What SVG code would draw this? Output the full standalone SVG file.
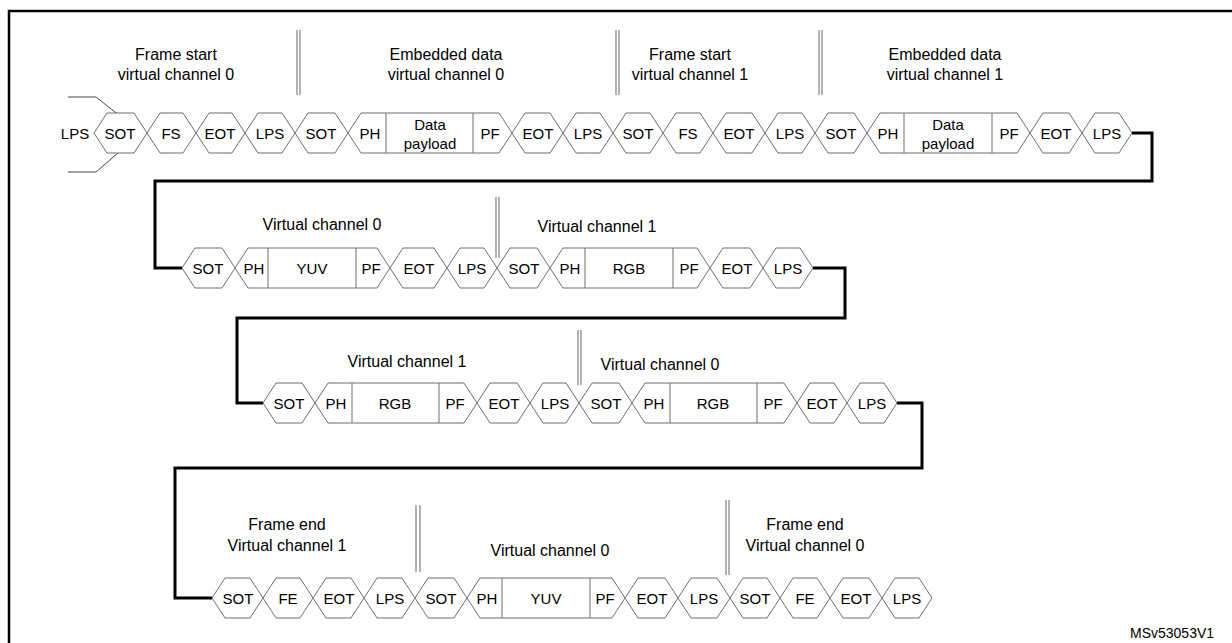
<svg xmlns="http://www.w3.org/2000/svg" width="1232" height="643" viewBox="0 0 1232 643">
<style>
.h{fill:#fff;stroke:#6e6e6e;stroke-width:1}
.d{stroke:#6e6e6e;stroke-width:1}
.t{font-family:"Liberation Sans",Arial,sans-serif;font-size:15px;fill:#000;text-anchor:middle;dominant-baseline:central}
.l{font-size:16px}
.c{fill:none;stroke:#000;stroke-width:3}
.s{stroke:#999;stroke-width:1.5}
</style>
<rect x="0" y="0" width="1232" height="643" fill="#fff"/>
<rect x="9" y="11" width="1240" height="640" fill="none" stroke="#000" stroke-width="2.5"/>
<g id="separators">
<line class="s" x1="297" y1="30" x2="297" y2="95"/><line class="s" x1="300" y1="30" x2="300" y2="95"/>
<line class="s" x1="616" y1="30" x2="616" y2="95"/><line class="s" x1="619" y1="30" x2="619" y2="95"/>
<line class="s" x1="819" y1="30" x2="819" y2="95"/><line class="s" x1="822" y1="30" x2="822" y2="95"/>
<line class="s" x1="496" y1="197" x2="496" y2="258"/><line class="s" x1="499" y1="197" x2="499" y2="258"/>
<line class="s" x1="578" y1="330" x2="578" y2="385"/><line class="s" x1="581" y1="330" x2="581" y2="385"/>
<line class="s" x1="416" y1="505" x2="416" y2="572"/><line class="s" x1="420" y1="505" x2="420" y2="572"/>
<line class="s" x1="726" y1="500" x2="726" y2="575"/><line class="s" x1="729" y1="500" x2="729" y2="575"/>
</g>
<g id="labels">
<text class="t l" x="176" y="54">Frame start</text><text class="t l" x="176" y="74">virtual channel 0</text>
<text class="t l" x="446" y="54">Embedded data</text><text class="t l" x="446" y="74">virtual channel 0</text>
<text class="t l" x="690" y="54">Frame start</text><text class="t l" x="690" y="74">virtual channel 1</text>
<text class="t l" x="945" y="54">Embedded data</text><text class="t l" x="945" y="74">virtual channel 1</text>
<text class="t l" x="322" y="224">Virtual channel 0</text>
<text class="t l" x="597" y="226">Virtual channel 1</text>
<text class="t l" x="407" y="361">Virtual channel 1</text>
<text class="t l" x="660" y="364">Virtual channel 0</text>
<text class="t l" x="287" y="524">Frame end</text><text class="t l" x="287" y="545">Virtual channel 1</text>
<text class="t l" x="550" y="550">Virtual channel 0</text>
<text class="t l" x="805" y="524">Frame end</text><text class="t l" x="805" y="545">Virtual channel 0</text>
<text class="t" x="75" y="133">LPS</text>
<text class="t" x="1130" y="633" style="text-anchor:start;font-size:14px">MSv53053V1</text>
</g>
<g id="connectors">
<path class="c" d="M1132,133 H1152 V181 H155 V268 H182"/>
<path class="c" d="M813,268 H845 V318 H237 V403 H263"/>
<path class="c" d="M897,403 H922 V468 H175 V598 H212"/>
<path fill="none" stroke="#444" stroke-width="1" d="M68,97 H96 L120,116 M68,172 H96 L119,152"/>
</g>
<g id="row1">
<g id="r1-sot1"><polygon class="h" points="94,133 107,113 134,113 147,133 134,153 107,153"/><text class="t" x="120" y="133">SOT</text></g>
<g id="r1-fs1"><polygon class="h" points="147,133 160,113 183,113 196,133 183,153 160,153"/><text class="t" x="171" y="133">FS</text></g>
<g id="r1-eot1"><polygon class="h" points="196,133 209,113 232,113 245,133 232,153 209,153"/><text class="t" x="220" y="133">EOT</text></g>
<g id="r1-lps1"><polygon class="h" points="245,133 258,113 282,113 295,133 282,153 258,153"/><text class="t" x="270" y="133">LPS</text></g>
<g id="r1-sot2"><polygon class="h" points="295,133 308,113 335,113 348,133 335,153 308,153"/><text class="t" x="321" y="133">SOT</text></g>
<g id="r1-pkt1"><polygon class="h" points="348,133 361,113 499,113 512,133 499,153 361,153"/><line class="d" x1="386" y1="113" x2="386" y2="153"/><line class="d" x1="473" y1="113" x2="473" y2="153"/><text class="t" x="370" y="133">PH</text><text class="t" x="430" y="124">Data</text><text class="t" x="430" y="143">payload</text><text class="t" x="490" y="133">PF</text></g>
<g id="r1-eot2"><polygon class="h" points="512,133 525,113 550,113 563,133 550,153 525,153"/><text class="t" x="538" y="133">EOT</text></g>
<g id="r1-lps2"><polygon class="h" points="563,133 576,113 600,113 613,133 600,153 576,153"/><text class="t" x="588" y="133">LPS</text></g>
<g id="r1-sot3"><polygon class="h" points="613,133 626,113 650,113 663,133 650,153 626,153"/><text class="t" x="638" y="133">SOT</text></g>
<g id="r1-fs2"><polygon class="h" points="663,133 676,113 700,113 713,133 700,153 676,153"/><text class="t" x="688" y="133">FS</text></g>
<g id="r1-eot3"><polygon class="h" points="713,133 726,113 752,113 765,133 752,153 726,153"/><text class="t" x="739" y="133">EOT</text></g>
<g id="r1-lps3"><polygon class="h" points="765,133 778,113 802,113 815,133 802,153 778,153"/><text class="t" x="790" y="133">LPS</text></g>
<g id="r1-sot4"><polygon class="h" points="815,133 828,113 854,113 867,133 854,153 828,153"/><text class="t" x="841" y="133">SOT</text></g>
<g id="r1-pkt2"><polygon class="h" points="867,133 880,113 1017,113 1030,133 1017,153 880,153"/><line class="d" x1="904" y1="113" x2="904" y2="153"/><line class="d" x1="992" y1="113" x2="992" y2="153"/><text class="t" x="888" y="133">PH</text><text class="t" x="948" y="124">Data</text><text class="t" x="948" y="143">payload</text><text class="t" x="1009" y="133">PF</text></g>
<g id="r1-eot4"><polygon class="h" points="1030,133 1043,113 1069,113 1082,133 1069,153 1043,153"/><text class="t" x="1056" y="133">EOT</text></g>
<g id="r1-lps4"><polygon class="h" points="1082,133 1095,113 1119,113 1132,133 1119,153 1095,153"/><text class="t" x="1107" y="133">LPS</text></g>
</g>
<g id="row2">
<g id="r2-sot1"><polygon class="h" points="182,268 195,248 222,248 235,268 222,288 195,288"/><text class="t" x="208" y="268">SOT</text></g>
<g id="r2-pkt1"><polygon class="h" points="235,268 248,248 377,248 390,268 377,288 248,288"/><line class="d" x1="268" y1="248" x2="268" y2="288"/><line class="d" x1="356" y1="248" x2="356" y2="288"/><text class="t" x="254" y="268">PH</text><text class="t" x="312" y="268">YUV</text><text class="t" x="371" y="268">PF</text></g>
<g id="r2-eot1"><polygon class="h" points="390,268 403,248 434,248 447,268 434,288 403,288"/><text class="t" x="419" y="268">EOT</text></g>
<g id="r2-lps1"><polygon class="h" points="447,268 460,248 484,248 497,268 484,288 460,288"/><text class="t" x="472" y="268">LPS</text></g>
<g id="r2-sot2"><polygon class="h" points="497,268 510,248 537,248 550,268 537,288 510,288"/><text class="t" x="524" y="268">SOT</text></g>
<g id="r2-pkt2"><polygon class="h" points="550,268 563,248 697,248 710,268 697,288 563,288"/><line class="d" x1="585" y1="248" x2="585" y2="288"/><line class="d" x1="673" y1="248" x2="673" y2="288"/><text class="t" x="570" y="268">PH</text><text class="t" x="629" y="268">RGB</text><text class="t" x="689" y="268">PF</text></g>
<g id="r2-eot2"><polygon class="h" points="710,268 723,248 750,248 763,268 750,288 723,288"/><text class="t" x="737" y="268">EOT</text></g>
<g id="r2-lps2"><polygon class="h" points="763,268 776,248 800,248 813,268 800,288 776,288"/><text class="t" x="788" y="268">LPS</text></g>
</g>
<g id="row3">
<g id="r3-sot1"><polygon class="h" points="263,403 276,383 302,383 315,403 302,423 276,423"/><text class="t" x="289" y="403">SOT</text></g>
<g id="r3-pkt1"><polygon class="h" points="315,403 328,383 464,383 477,403 464,423 328,423"/><line class="d" x1="352" y1="383" x2="352" y2="423"/><line class="d" x1="439" y1="383" x2="439" y2="423"/><text class="t" x="336" y="403">PH</text><text class="t" x="395" y="403">RGB</text><text class="t" x="455" y="403">PF</text></g>
<g id="r3-eot1"><polygon class="h" points="477,403 490,383 517,383 530,403 517,423 490,423"/><text class="t" x="504" y="403">EOT</text></g>
<g id="r3-lps1"><polygon class="h" points="530,403 543,383 566,383 579,403 566,423 543,423"/><text class="t" x="555" y="403">LPS</text></g>
<g id="r3-sot2"><polygon class="h" points="579,403 592,383 619,383 632,403 619,423 592,423"/><text class="t" x="606" y="403">SOT</text></g>
<g id="r3-pkt2"><polygon class="h" points="632,403 645,383 784,383 797,403 784,423 645,423"/><line class="d" x1="670" y1="383" x2="670" y2="423"/><line class="d" x1="757" y1="383" x2="757" y2="423"/><text class="t" x="654" y="403">PH</text><text class="t" x="713" y="403">RGB</text><text class="t" x="773" y="403">PF</text></g>
<g id="r3-eot2"><polygon class="h" points="797,403 810,383 834,383 847,403 834,423 810,423"/><text class="t" x="822" y="403">EOT</text></g>
<g id="r3-lps2"><polygon class="h" points="847,403 860,383 884,383 897,403 884,423 860,423"/><text class="t" x="872" y="403">LPS</text></g>
</g>
<g id="row4">
<g id="r4-sot1"><polygon class="h" points="212,598 225,578 250,578 263,598 250,618 225,618"/><text class="t" x="238" y="598">SOT</text></g>
<g id="r4-fe1"><polygon class="h" points="263,598 276,578 300,578 313,598 300,618 276,618"/><text class="t" x="288" y="598">FE</text></g>
<g id="r4-eot1"><polygon class="h" points="313,598 326,578 351,578 364,598 351,618 326,618"/><text class="t" x="339" y="598">EOT</text></g>
<g id="r4-lps1"><polygon class="h" points="364,598 377,578 402,578 415,598 402,618 377,618"/><text class="t" x="390" y="598">LPS</text></g>
<g id="r4-sot2"><polygon class="h" points="415,598 428,578 454,578 467,598 454,618 428,618"/><text class="t" x="441" y="598">SOT</text></g>
<g id="r4-pkt"><polygon class="h" points="467,598 480,578 612,578 625,598 612,618 480,618"/><line class="d" x1="502" y1="578" x2="502" y2="618"/><line class="d" x1="590" y1="578" x2="590" y2="618"/><text class="t" x="487" y="598">PH</text><text class="t" x="546" y="598">YUV</text><text class="t" x="605" y="598">PF</text></g>
<g id="r4-eot2"><polygon class="h" points="625,598 638,578 665,578 678,598 665,618 638,618"/><text class="t" x="652" y="598">EOT</text></g>
<g id="r4-lps2"><polygon class="h" points="678,598 691,578 717,578 730,598 717,618 691,618"/><text class="t" x="704" y="598">LPS</text></g>
<g id="r4-sot3"><polygon class="h" points="730,598 743,578 767,578 780,598 767,618 743,618"/><text class="t" x="755" y="598">SOT</text></g>
<g id="r4-fe2"><polygon class="h" points="780,598 793,578 817,578 830,598 817,618 793,618"/><text class="t" x="805" y="598">FE</text></g>
<g id="r4-eot3"><polygon class="h" points="830,598 843,578 869,578 882,598 869,618 843,618"/><text class="t" x="856" y="598">EOT</text></g>
<g id="r4-lps3"><polygon class="h" points="882,598 895,578 919,578 932,598 919,618 895,618"/><text class="t" x="907" y="598">LPS</text></g>
</g>
</svg>
